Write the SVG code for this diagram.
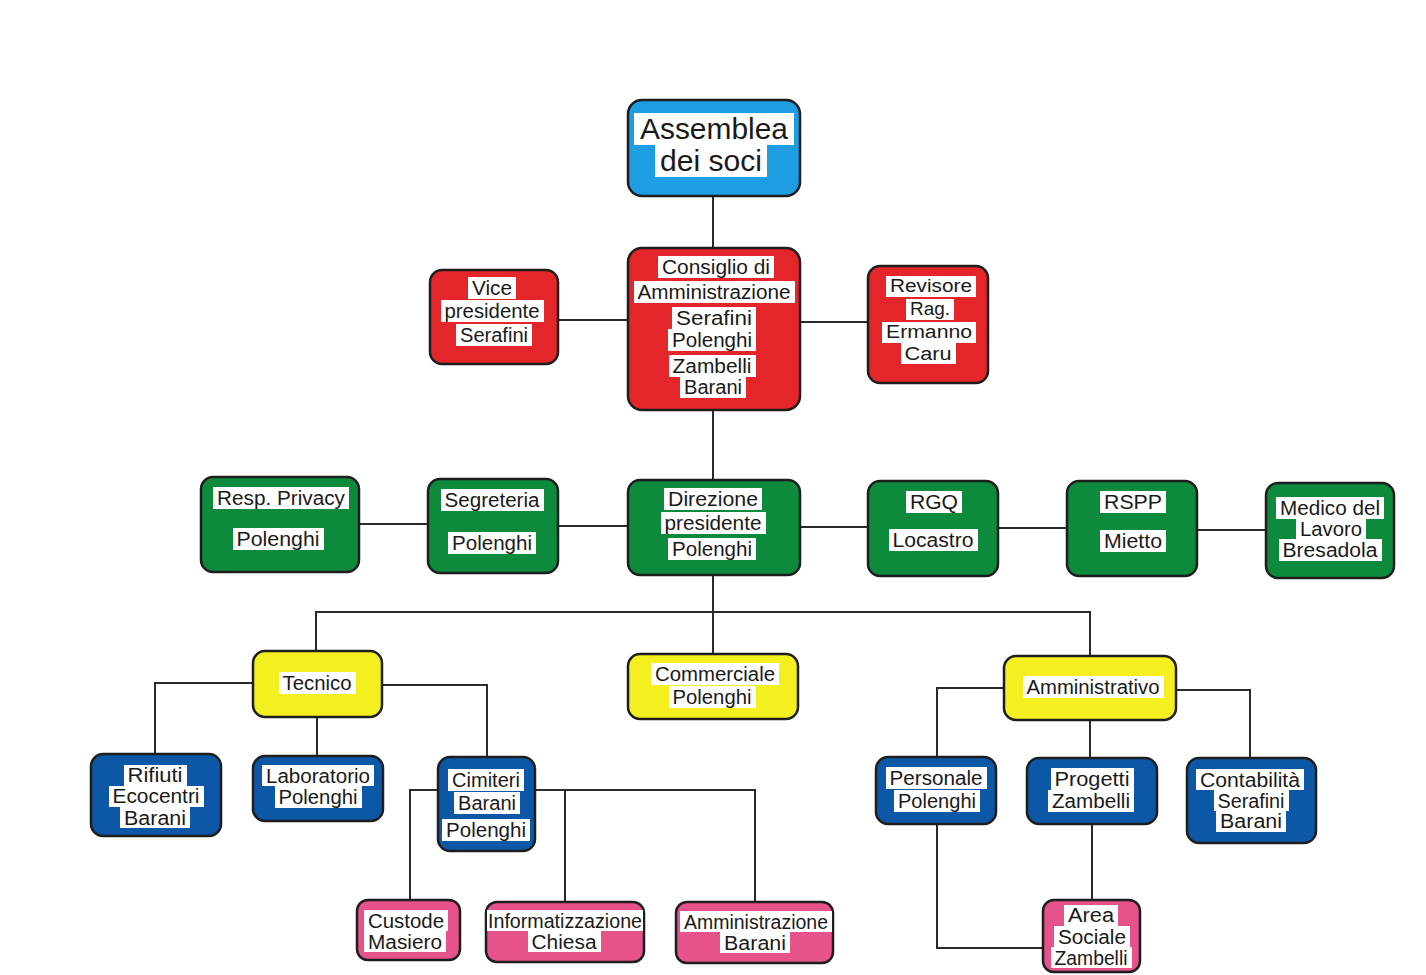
<svg xmlns="http://www.w3.org/2000/svg" width="1426" height="975" viewBox="0 0 1426 975">
<style>
.n{stroke:#1e1e1e;stroke-width:2.5}
.b1{fill:#1f9de2}.rd{fill:#e4252a}.gr{fill:#0e8a3d}.yl{fill:#f4ef1f}.bl{fill:#0c58a6}.pk{fill:#e6528a}
.bg{fill:#ffffff}
text{font-family:"Liberation Sans",Arial,sans-serif;font-size:20px;fill:#1a1a1a;text-anchor:middle;dominant-baseline:central}
.big{font-size:29px}
.sm{font-size:18px}
.c{fill:none;stroke:#2a2a2a;stroke-width:2}
</style>
<rect width="1426" height="975" fill="#ffffff"/>
<g id="connectors">
<path class="c" d="M713 196V248M713 410V480M558 320H628M800 322H868M359 524H428M558 526H628M800 527H868M998 528H1067M1197 530H1266M713 575V654M316 651V612H1090V656M253 683H155V754M382 685H487V757M317 717V756M438 790H410V900M535 790H755V902M565 790V902M1004 688H937V757M1176 690H1250V758M1090 720V758M1092 824V900M937 824V948H1043"/>
</g>
<g id="assemblea">
<rect class="n b1" x="628" y="100" width="172" height="96" rx="14"/>
<rect class="bg" x="634" y="113" width="160" height="32"/><rect class="bg" x="655" y="145" width="112" height="32"/>
<text class="big" x="714" y="129" textLength="148" lengthAdjust="spacingAndGlyphs">Assemblea</text>
<text class="big" x="711" y="161" textLength="102" lengthAdjust="spacingAndGlyphs">dei soci</text>
</g>
<g id="consiglio">
<rect class="n rd" x="628" y="248" width="172" height="162" rx="14"/>
<rect class="bg" x="658" y="256" width="116" height="22"/><rect class="bg" x="634" y="281" width="161" height="22"/>
<rect class="bg" x="672" y="307" width="84" height="22"/><rect class="bg" x="668" y="329" width="88" height="22"/>
<rect class="bg" x="669" y="355" width="87" height="22"/><rect class="bg" x="680" y="377" width="66" height="21"/>
<text x="716" y="267" textLength="108" lengthAdjust="spacingAndGlyphs">Consiglio di</text>
<text x="714" y="292" textLength="153" lengthAdjust="spacingAndGlyphs">Amministrazione</text>
<text x="714" y="318" textLength="76" lengthAdjust="spacingAndGlyphs">Serafini</text>
<text x="712" y="340" textLength="80" lengthAdjust="spacingAndGlyphs">Polenghi</text>
<text x="712" y="366" textLength="79" lengthAdjust="spacingAndGlyphs">Zambelli</text>
<text x="713" y="387" textLength="58" lengthAdjust="spacingAndGlyphs">Barani</text>
</g>
<g id="vicepresidente">
<rect class="n rd" x="430" y="270" width="128" height="94" rx="12"/>
<rect class="bg" x="468" y="277" width="48" height="22"/><rect class="bg" x="441" y="300" width="103" height="22"/><rect class="bg" x="456" y="324" width="76" height="22"/>
<text x="492" y="288" textLength="40" lengthAdjust="spacingAndGlyphs">Vice</text>
<text x="492" y="311" textLength="95" lengthAdjust="spacingAndGlyphs">presidente</text>
<text x="494" y="335" textLength="68" lengthAdjust="spacingAndGlyphs">Serafini</text>
</g>
<g id="revisore">
<rect class="n rd" x="868" y="266" width="120" height="117" rx="12"/>
<rect class="bg" x="886" y="276" width="90" height="21"/><rect class="bg" x="906" y="299" width="48" height="21"/><rect class="bg" x="882" y="322" width="94" height="21"/><rect class="bg" x="901" y="343" width="55" height="21"/>
<text class="sm" x="931" y="286" textLength="82" lengthAdjust="spacingAndGlyphs">Revisore</text>
<text class="sm" x="930" y="309" textLength="40" lengthAdjust="spacingAndGlyphs">Rag.</text>
<text class="sm" x="929" y="332" textLength="86" lengthAdjust="spacingAndGlyphs">Ermanno</text>
<text class="sm" x="928" y="354" textLength="47" lengthAdjust="spacingAndGlyphs">Caru</text>
</g>
<g id="privacy">
<rect class="n gr" x="201" y="477" width="158" height="95" rx="12"/>
<rect class="bg" x="213" y="487" width="136" height="22"/><rect class="bg" x="233" y="528" width="91" height="22"/>
<text x="281" y="498" textLength="128" lengthAdjust="spacingAndGlyphs">Resp. Privacy</text>
<text x="278" y="539" textLength="83" lengthAdjust="spacingAndGlyphs">Polenghi</text>
</g>
<g id="segreteria">
<rect class="n gr" x="428" y="479" width="130" height="94" rx="12"/>
<rect class="bg" x="441" y="489" width="103" height="22"/><rect class="bg" x="448" y="532" width="88" height="22"/>
<text x="492" y="500" textLength="95" lengthAdjust="spacingAndGlyphs">Segreteria</text>
<text x="492" y="543" textLength="80" lengthAdjust="spacingAndGlyphs">Polenghi</text>
</g>
<g id="direzione">
<rect class="n gr" x="628" y="480" width="172" height="95" rx="12"/>
<rect class="bg" x="664" y="488" width="98" height="22"/><rect class="bg" x="661" y="512" width="105" height="22"/><rect class="bg" x="668" y="538" width="88" height="22"/>
<text x="713" y="499" textLength="90" lengthAdjust="spacingAndGlyphs">Direzione</text>
<text x="713" y="523" textLength="97" lengthAdjust="spacingAndGlyphs">presidente</text>
<text x="712" y="549" textLength="80" lengthAdjust="spacingAndGlyphs">Polenghi</text>
</g>
<g id="rgq">
<rect class="n gr" x="868" y="481" width="130" height="95" rx="12"/>
<rect class="bg" x="906" y="491" width="56" height="22"/><rect class="bg" x="889" y="529" width="89" height="22"/>
<text x="934" y="502" textLength="48" lengthAdjust="spacingAndGlyphs">RGQ</text>
<text x="933" y="540" textLength="81" lengthAdjust="spacingAndGlyphs">Locastro</text>
</g>
<g id="rspp">
<rect class="n gr" x="1067" y="481" width="130" height="95" rx="12"/>
<rect class="bg" x="1100" y="491" width="66" height="22"/><rect class="bg" x="1100" y="530" width="66" height="22"/>
<text x="1133" y="502" textLength="58" lengthAdjust="spacingAndGlyphs">RSPP</text>
<text x="1133" y="541" textLength="58" lengthAdjust="spacingAndGlyphs">Mietto</text>
</g>
<g id="medico">
<rect class="n gr" x="1266" y="483" width="128" height="95" rx="12"/>
<rect class="bg" x="1276" y="497" width="108" height="22"/><rect class="bg" x="1296" y="519" width="70" height="20"/><rect class="bg" x="1279" y="539" width="103" height="22"/>
<text x="1330" y="508" textLength="100" lengthAdjust="spacingAndGlyphs">Medico del</text>
<text x="1331" y="529" textLength="62" lengthAdjust="spacingAndGlyphs">Lavoro</text>
<text x="1330" y="550" textLength="95" lengthAdjust="spacingAndGlyphs">Bresadola</text>
</g>
<g id="tecnico">
<rect class="n yl" x="253" y="651" width="129" height="66" rx="12"/>
<rect class="bg" x="279" y="672" width="77" height="22"/>
<text x="317" y="683" textLength="69" lengthAdjust="spacingAndGlyphs">Tecnico</text>
</g>
<g id="commerciale">
<rect class="n yl" x="628" y="654" width="170" height="65" rx="12"/>
<rect class="bg" x="651" y="663" width="128" height="22"/><rect class="bg" x="669" y="686" width="87" height="22"/>
<text x="715" y="674" textLength="120" lengthAdjust="spacingAndGlyphs">Commerciale</text>
<text x="712" y="697" textLength="79" lengthAdjust="spacingAndGlyphs">Polenghi</text>
</g>
<g id="amministrativo">
<rect class="n yl" x="1004" y="656" width="172" height="64" rx="12"/>
<rect class="bg" x="1023" y="676" width="141" height="22"/>
<text x="1093" y="687" textLength="133" lengthAdjust="spacingAndGlyphs">Amministrativo</text>
</g>
<g id="rifiuti">
<rect class="n bl" x="91" y="754" width="130" height="82" rx="12"/>
<rect class="bg" x="124" y="765" width="63" height="21"/><rect class="bg" x="109" y="786" width="95" height="21"/><rect class="bg" x="120" y="807" width="70" height="21"/>
<text x="155" y="775" textLength="55" lengthAdjust="spacingAndGlyphs">Rifiuti</text>
<text x="156" y="796" textLength="87" lengthAdjust="spacingAndGlyphs">Ecocentri</text>
<text x="155" y="818" textLength="62" lengthAdjust="spacingAndGlyphs">Barani</text>
</g>
<g id="laboratorio">
<rect class="n bl" x="253" y="756" width="130" height="65" rx="12"/>
<rect class="bg" x="262" y="765" width="112" height="21"/><rect class="bg" x="275" y="786" width="87" height="22"/>
<text x="318" y="776" textLength="104" lengthAdjust="spacingAndGlyphs">Laboratorio</text>
<text x="318" y="797" textLength="79" lengthAdjust="spacingAndGlyphs">Polenghi</text>
</g>
<g id="cimiteri">
<rect class="n bl" x="438" y="757" width="97" height="94" rx="12"/>
<rect class="bg" x="448" y="769" width="76" height="22"/><rect class="bg" x="454" y="792" width="66" height="22"/><rect class="bg" x="442" y="819" width="88" height="22"/>
<text x="486" y="780" textLength="68" lengthAdjust="spacingAndGlyphs">Cimiteri</text>
<text x="487" y="803" textLength="58" lengthAdjust="spacingAndGlyphs">Barani</text>
<text x="486" y="830" textLength="80" lengthAdjust="spacingAndGlyphs">Polenghi</text>
</g>
<g id="custode">
<rect class="n pk" x="357" y="900" width="103" height="60" rx="11"/>
<rect class="bg" x="364" y="910" width="84" height="21"/><rect class="bg" x="364" y="931" width="82" height="21"/>
<text x="406" y="921" textLength="76" lengthAdjust="spacingAndGlyphs">Custode</text>
<text x="405" y="942" textLength="74" lengthAdjust="spacingAndGlyphs">Masiero</text>
</g>
<g id="informatizzazione">
<rect class="n pk" x="486" y="902" width="158" height="60" rx="11"/>
<rect class="bg" x="487" y="910" width="156" height="21"/><rect class="bg" x="528" y="931" width="73" height="21"/>
<text x="565" y="921" textLength="154" lengthAdjust="spacingAndGlyphs">Informatizzazione</text>
<text x="564" y="942" textLength="65" lengthAdjust="spacingAndGlyphs">Chiesa</text>
</g>
<g id="amministrazione-barani">
<rect class="n pk" x="676" y="902" width="157" height="61" rx="11"/>
<rect class="bg" x="680" y="911" width="152" height="21"/><rect class="bg" x="720" y="932" width="70" height="21"/>
<text x="756" y="922" textLength="144" lengthAdjust="spacingAndGlyphs">Amministrazione</text>
<text x="755" y="943" textLength="62" lengthAdjust="spacingAndGlyphs">Barani</text>
</g>
<g id="personale">
<rect class="n bl" x="876" y="757" width="120" height="67" rx="12"/>
<rect class="bg" x="886" y="767" width="101" height="22"/><rect class="bg" x="894" y="790" width="86" height="22"/>
<text x="936" y="778" textLength="93" lengthAdjust="spacingAndGlyphs">Personale</text>
<text x="937" y="801" textLength="78" lengthAdjust="spacingAndGlyphs">Polenghi</text>
</g>
<g id="progetti">
<rect class="n bl" x="1027" y="758" width="130" height="66" rx="12"/>
<rect class="bg" x="1051" y="768" width="83" height="22"/><rect class="bg" x="1048" y="790" width="86" height="22"/>
<text x="1092" y="779" textLength="75" lengthAdjust="spacingAndGlyphs">Progetti</text>
<text x="1091" y="801" textLength="78" lengthAdjust="spacingAndGlyphs">Zambelli</text>
</g>
<g id="contabilita">
<rect class="n bl" x="1187" y="758" width="129" height="85" rx="12"/>
<rect class="bg" x="1196" y="769" width="108" height="21"/><rect class="bg" x="1214" y="790" width="75" height="21"/><rect class="bg" x="1216" y="811" width="70" height="21"/>
<text x="1250" y="780" textLength="100" lengthAdjust="spacingAndGlyphs">Contabilità</text>
<text x="1251" y="801" textLength="67" lengthAdjust="spacingAndGlyphs">Serafini</text>
<text x="1251" y="821" textLength="62" lengthAdjust="spacingAndGlyphs">Barani</text>
</g>
<g id="area-sociale">
<rect class="n pk" x="1043" y="900" width="97" height="72" rx="11"/>
<rect class="bg" x="1064" y="905" width="54" height="21"/><rect class="bg" x="1054" y="926" width="76" height="21"/><rect class="bg" x="1051" y="947" width="81" height="21"/>
<text x="1091" y="915" textLength="46" lengthAdjust="spacingAndGlyphs">Area</text>
<text x="1092" y="937" textLength="68" lengthAdjust="spacingAndGlyphs">Sociale</text>
<text x="1091" y="958" textLength="73" lengthAdjust="spacingAndGlyphs">Zambelli</text>
</g>
</svg>
